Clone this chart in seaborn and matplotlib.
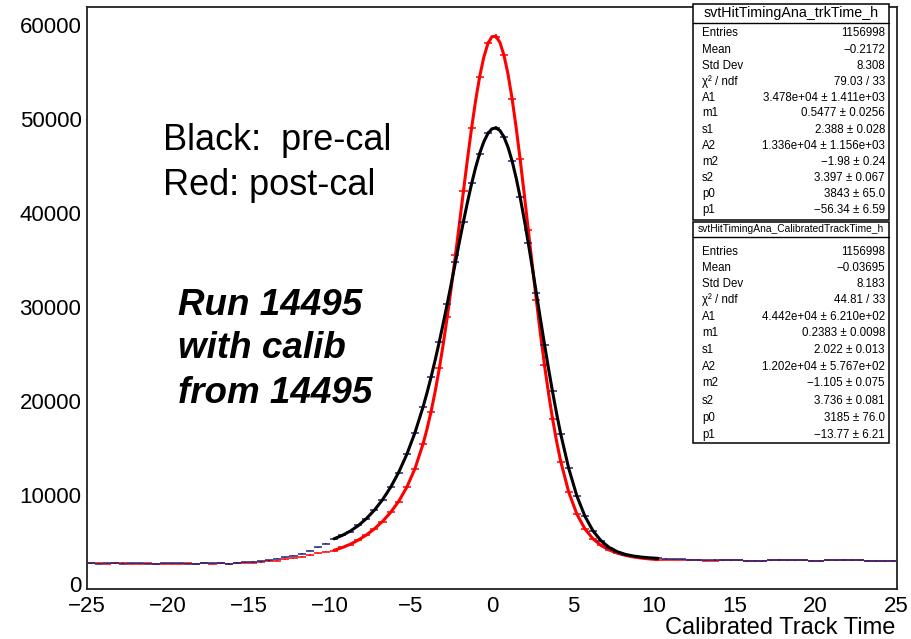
import numpy as np
import pandas as pd
import matplotlib
matplotlib.use("Agg")
import matplotlib.pyplot as plt
import matplotlib.transforms as mtransforms
from matplotlib.patches import Rectangle
from matplotlib.lines import Line2D
import seaborn as sns

# ---------------- data ----------------
bin_lo, bin_hi, bin_w = -25.0, 25.0, 0.5

# histogram bin contents (100 bins, -25..25), pre-calibration (drawn navy)
pre_cal_counts = [
    2760, 2740, 2770, 2790, 2720, 2750, 2760, 2740, 2720, 2750,
    2770, 2750, 2730, 2710, 2760, 2790, 2770, 2700, 2830, 2880,
    2940, 3010, 3090, 3260, 3390, 3560, 3800, 4100, 4450, 4850,
    5330, 5760, 6150, 6820, 7480, 8470, 9500, 10900, 12420, 14400,
    16620, 19430, 22560, 26350, 30380, 34850, 39120, 43210, 46350, 48530,
    49060, 48180, 45530, 41740, 36800, 31530, 26030, 21050, 16500, 12890,
    9890, 7800, 6180, 5170, 4420, 4010, 3690, 3550, 3410, 3360,
    3280, 3250, 3200, 3180, 3150, 3130, 3100, 3120, 3100, 3110,
    3080, 3030, 3050, 3060, 3100, 3120, 3100, 3110, 3090, 3060,
    3050, 3100, 3110, 3120, 3090, 3080, 3060, 3020, 3000, 3040,
]
# post-calibration (red)
post_cal_counts = [
    2750, 2760, 2730, 2810, 2850, 2740, 2720, 2760, 2740, 2700,
    2740, 2730, 2760, 2720, 2750, 2740, 2760, 2720, 2780, 2800,
    2850, 2900, 2960, 3060, 3180, 3320, 3480, 3650, 3820, 3980,
    4120, 4460, 4760, 5270, 5750, 6470, 7200, 8220, 9330, 10900,
    12800, 15500, 18900, 23500, 28990, 35560, 42400, 49140, 54530, 58090,
    58800, 56870, 52170, 45770, 38220, 30790, 23840, 18170, 13600, 10360,
    7970, 6450, 5340, 4680, 4160, 3860, 3600, 3450, 3310, 3235,
    3170, 3150, 3140, 3130, 3110, 3080, 3050, 3030, 3070, 3090,
    3100, 3040, 3020, 3050, 3080, 3100, 3130, 3090, 3070, 3050,
    3000, 3080, 3100, 3110, 3120, 3070, 3050, 3000, 2990, 3030,
]

# fitted curves
fit_x = [-9.75, -9.25, -8.75, -8.25, -7.75, -7.25, -6.75, -6.25, -5.75, -5.25,
         -4.75, -4.25, -4.0, -3.75, -3.5, -3.25, -3.0, -2.75, -2.5, -2.25,
         -2.0, -1.75, -1.5, -1.25, -1.0, -0.75, -0.5, -0.25, 0.0, 0.25,
         0.5, 0.75, 1.0, 1.25, 1.5, 1.75, 2.0, 2.25, 2.5, 2.75,
         3.0, 3.25, 3.5, 3.75, 4.0, 4.25, 4.75, 5.25, 5.75, 6.25,
         6.75, 7.25, 7.75, 8.25, 8.75, 9.25, 9.75, 10.25]
fit_pre = [5372, 5725, 6187, 6779, 7520, 8430, 9534, 10863, 12458, 14370,
           16661, 19391, 20936, 22605, 24396, 26305, 28320, 30423, 32591, 34797,
           37002, 39163, 41235, 43166, 44905, 46403, 47610, 48485, 48993, 49110,
           48822, 48129, 47042, 45582, 43785, 41695, 39363, 36845, 34201, 31487,
           28762, 26078, 23480, 21005, 18686, 16546, 12846, 9932, 7764, 6211,
           5148, 4445, 3995, 3713, 3536, 3424, 3349, 3295]
fit_post = [4146, 4430, 4789, 5236, 5781, 6439, 7230, 8186, 9367, 10869,
            12837, 15459, 17081, 18941, 21062, 23454, 26115, 29036, 32185, 35517,
            38963, 42441, 45856, 49093, 52038, 54580, 56611, 58040, 58804, 58856,
            58188, 56821, 54805, 52216, 49152, 45727, 42059, 38263, 34459, 30741,
            27193, 23882, 20853, 18129, 15725, 13636, 10325, 7999, 6421, 5365,
            4659, 4180, 3847, 3612, 3441, 3318, 3228, 3163]

x_ticks = [-25, -20, -15, -10, -5, 0, 5, 10, 15, 20, 25]
y_ticks = [0, 10000, 20000, 30000, 40000, 50000, 60000]

stat_labels = ["Entries", "Mean", "Std Dev", "\u03c7\u00b2 / ndf", "A1", "m1", "s1",
               "A2", "m2", "s2", "p0", "p1"]
stats_pre_title = "svtHitTimingAna_trkTime_h"
stats_pre = ["1156998", "\u22120.2172", "8.308", "79.03 / 33",
             "3.478e+04 \u00b1 1.411e+03", "0.5477 \u00b1 0.0256", "2.388 \u00b1 0.028",
             "1.336e+04 \u00b1 1.156e+03", "\u22121.98 \u00b1 0.24", "3.397 \u00b1 0.067",
             "3843 \u00b1 65.0", "\u221256.34 \u00b1 6.59"]
stats_post_title = "svtHitTimingAna_CalibratedTrackTime_h"
stats_post = ["1156998", "\u22120.03695", "8.183", "44.81 / 33",
              "4.442e+04 \u00b1 6.210e+02", "0.2383 \u00b1 0.0098", "2.022 \u00b1 0.013",
              "1.202e+04 \u00b1 5.767e+02", "\u22121.105 \u00b1 0.075", "3.736 \u00b1 0.081",
              "3185 \u00b1 76.0", "\u221213.77 \u00b1 6.21"]

# ---------------- style ----------------
sns.set_style("white")
plt.rcParams['font.family'] = ['Liberation Sans', 'DejaVu Sans']
plt.rcParams['axes.unicode_minus'] = True
plt.rcParams['text.color'] = 'black'
plt.rcParams['xtick.color'] = 'black'
plt.rcParams['ytick.color'] = 'black'
plt.rcParams['axes.labelcolor'] = 'black'

W, H = 912, 639
fig = plt.figure(figsize=(W / 100, H / 100), dpi=100)
fig.patch.set_facecolor('white')

def fx(px):
    return px / W

def fy(py):
    return 1 - py / H

ax_l, ax_r, ax_t, ax_b = 87.0, 896.7, 6.7, 589.3
ax = fig.add_axes([fx(ax_l), fy(ax_b), (ax_r - ax_l) / W, (ax_b - ax_t) / H])

centers = np.arange(bin_lo + bin_w / 2, bin_hi, bin_w)
pre = np.array(pre_cal_counts, dtype=float)
post = np.array(post_cal_counts, dtype=float)

navy = '#22227a'
red = '#ff0000'

# post-cal histogram + fit
ax.errorbar(centers, post, xerr=bin_w / 2, yerr=np.sqrt(post), fmt='none',
            ecolor=red, elinewidth=1.1, capsize=0, zorder=3)
df_post = pd.DataFrame({'x': fit_x, 'y': fit_post})
sns.lineplot(data=df_post, x='x', y='y', color=red, linewidth=2.2, ax=ax,
             sort=False, estimator=None, zorder=4)
# pre-cal histogram + fit
ax.errorbar(centers, pre, xerr=bin_w / 2, yerr=np.sqrt(pre), fmt='none',
            ecolor=navy, elinewidth=1.1, capsize=0, zorder=5)
df_pre = pd.DataFrame({'x': fit_x, 'y': fit_pre})
sns.lineplot(data=df_pre, x='x', y='y', color='black', linewidth=2.2, ax=ax,
             sort=False, estimator=None, zorder=6)

ax.set_xlim(bin_lo, bin_hi)
ax.set_ylim(0, 62000)
ax.set_xticks(x_ticks)
ax.set_xticks(np.arange(-25, 26, 1), minor=True)
ax.set_yticks(y_ticks)
ax.set_yticks(np.arange(0, 62001, 2000), minor=True)
ax.set_xticklabels([f"{t}".replace('-', '\u2212') for t in x_ticks])
ax.set_yticklabels([f"{t}" for t in y_ticks])
ax.set_xlabel("")
ax.set_ylabel("")

ax.tick_params(axis='x', which='major', direction='in', length=12.5, width=1.0,
               labelsize=16, pad=5, color='#222222', labelcolor='black')
ax.tick_params(axis='x', which='minor', direction='in', length=6, width=1.0,
               color='#222222')
ax.tick_params(axis='y', which='major', direction='in', length=17.5, width=1.0,
               labelsize=16, pad=4, color='#222222', labelcolor='black')
ax.tick_params(axis='y', which='minor', direction='in', length=9, width=1.0,
               color='#222222')
for s in ax.spines.values():
    s.set_linewidth(1.3)
    s.set_color('#222222')

# nudge the "0" y label up a little so it clears the "-25" x label
zero_lab = ax.get_yticklabels()[0]
zero_lab.set_transform(zero_lab.get_transform() +
                       mtransforms.ScaledTranslation(0, 5 / 100, fig.dpi_scale_trans))

# axis title (ROOT style: right aligned under the axis)
fig.text(fx(895), fy(634), "Calibrated Track Time", ha='right', va='baseline',
         fontsize=17, color='black')

# annotations
fig.text(fx(163), fy(150), "Black:  pre-cal", ha='left', va='baseline', fontsize=26,
         color='black')
fig.text(fx(163), fy(195), "Red: post-cal", ha='left', va='baseline', fontsize=26,
         color='black')
for txt, base in [("Run 14495", 315), ("with calib", 358), ("from 14495", 403)]:
    fig.text(fx(178), fy(base), txt, ha='left', va='baseline', fontsize=26.5,
             fontweight='bold', fontstyle='italic', color='black')

# stats boxes
def stats_box(top, title_bot, bottom, title, title_size, values, rows_y):
    x0, x1 = 693, 889
    rect = Rectangle((fx(x0), fy(bottom)), (x1 - x0) / W, (bottom - top) / H,
                     transform=fig.transFigure, facecolor='white',
                     edgecolor='black', linewidth=1.1, zorder=10)
    fig.add_artist(rect)
    fig.add_artist(Line2D([fx(x0), fx(x1)], [fy(title_bot), fy(title_bot)],
                          transform=fig.transFigure, color='black',
                          linewidth=1.0, zorder=11))
    fig.text(fx((x0 + x1) / 2), fy((top + title_bot) / 2), title, ha='center',
             va='center', fontsize=title_size, zorder=12, color='black')
    for lab, val, yy in zip(stat_labels, values, rows_y):
        fig.text(fx(702), fy(yy), lab, ha='left', va='center', fontsize=8.3,
                 zorder=12, color='black')
        fig.text(fx(885), fy(yy), val, ha='right', va='center', fontsize=8.3,
                 zorder=12, color='black')

rows1 = [33.3, 50, 66, 81.7, 97.7, 113.5, 130, 146, 162, 178, 194, 210]
rows2 = [251.7, 267.7, 283.5, 300, 316.7, 333, 350, 366.7, 383, 401, 418, 435]
stats_box(4, 23, 220, stats_pre_title, 10.3, stats_pre, rows1)
stats_box(222, 237, 443, stats_post_title, 7.4, stats_post, rows2)

fig.savefig("out.png", dpi=100)
